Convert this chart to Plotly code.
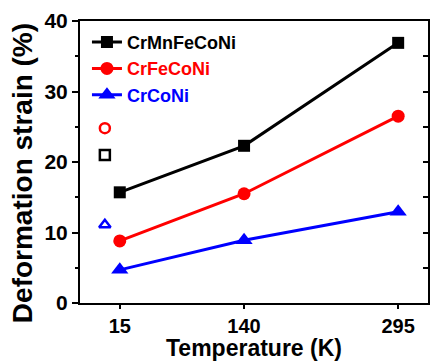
import plotly.graph_objects as go

temps = [15, 140, 295]
crmnfeconi = [15.7, 22.3, 36.9]
crfeconi = [8.8, 15.5, 26.5]
crconi = [4.7, 8.9, 12.95]

open_x = [0]
open_crmnfeconi = [21.0]
open_crfeconi = [24.8]
open_crconi = [11.1]

names = ["CrMnFeCoNi", "CrFeCoNi", "CrCoNi"]
colors = ["black", "#ff0000", "#0000ff"]
symbols = ["square", "circle", "triangle-up"]
sizes = [12, 13, 15]

FONT = "Liberation Sans, Arial, sans-serif"

fig = go.Figure()
for name, vals, col, sym, sz in zip(names, [crmnfeconi, crfeconi, crconi], colors, symbols, sizes):
    fig.add_trace(go.Scatter(
        x=temps, y=vals, mode="lines+markers",
        name=f"<span style='color:{col}'>{name}</span>",
        line=dict(color=col, width=3),
        marker=dict(symbol=sym, size=sz, color=col),
    ))

for vals, col, sym in zip([open_crmnfeconi, open_crfeconi, open_crconi], colors, symbols):
    fig.add_trace(go.Scatter(
        x=open_x, y=vals, mode="markers", showlegend=False,
        marker=dict(symbol=sym + "-open", size=10, color=col, line=dict(width=2.5, color=col)),
    ))

# helper trace so the right-hand (inside-tick) axis is drawn
fig.add_trace(go.Scatter(x=[None], y=[None], yaxis="y2", showlegend=False, hoverinfo="skip"))

fig.update_layout(
    width=430, height=361,
    margin=dict(l=80, r=2, t=21, b=58, autoexpand=False),
    plot_bgcolor="white", paper_bgcolor="white",
    font=dict(family=FONT, size=21, color="black", weight="bold"),
    showlegend=True,
    legend=dict(x=0.02, y=0.99, xanchor="left", yanchor="top",
                bgcolor="rgba(0,0,0,0)", font=dict(size=18, weight="bold"),
                tracegroupgap=0, itemwidth=30),
    xaxis=dict(
        range=[-25, 325], tickvals=temps, ticktext=[str(t) for t in temps],
        showline=True, linecolor="black", linewidth=2, mirror=True,
        ticks="outside", ticklen=4, tickwidth=2, tickcolor="black",
        tickfont=dict(size=20, weight="bold"), automargin=False,
        showgrid=False, zeroline=False,
    ),
    yaxis=dict(
        range=[0, 40], tickvals=[0, 10, 20, 30, 40],
        showline=True, linecolor="black", linewidth=2, mirror=True,
        ticks="outside", ticklen=6, tickwidth=2, tickcolor="black",
        tickfont=dict(size=21, weight="bold"), automargin=False,
        minor=dict(tickvals=[5, 15, 25, 35], ticks="outside", ticklen=3, tickwidth=2, tickcolor="black"),
        showgrid=False, zeroline=False,
    ),
    yaxis2=dict(
        range=[0, 40], overlaying="y", side="right", anchor="x",
        tickvals=[5, 10, 15, 20, 25, 30, 35], showticklabels=False,
        ticks="inside", ticklen=5, tickwidth=2, tickcolor="black", automargin=False,
        showgrid=False, zeroline=False, showline=False,
    ),
    annotations=[
        dict(text="Temperature (K)", xref="paper", yref="paper", x=0.5, y=-0.16,
             xanchor="center", yanchor="middle", showarrow=False,
             font=dict(size=23, weight="bold", color="black")),
        dict(text="Deformation strain (%)", xref="paper", yref="paper", x=-0.167, y=0.46,
             xanchor="center", yanchor="middle", showarrow=False, textangle=-90,
             font=dict(size=28, weight="bold", color="black")),
    ],
)

fig.write_html("out.html")
